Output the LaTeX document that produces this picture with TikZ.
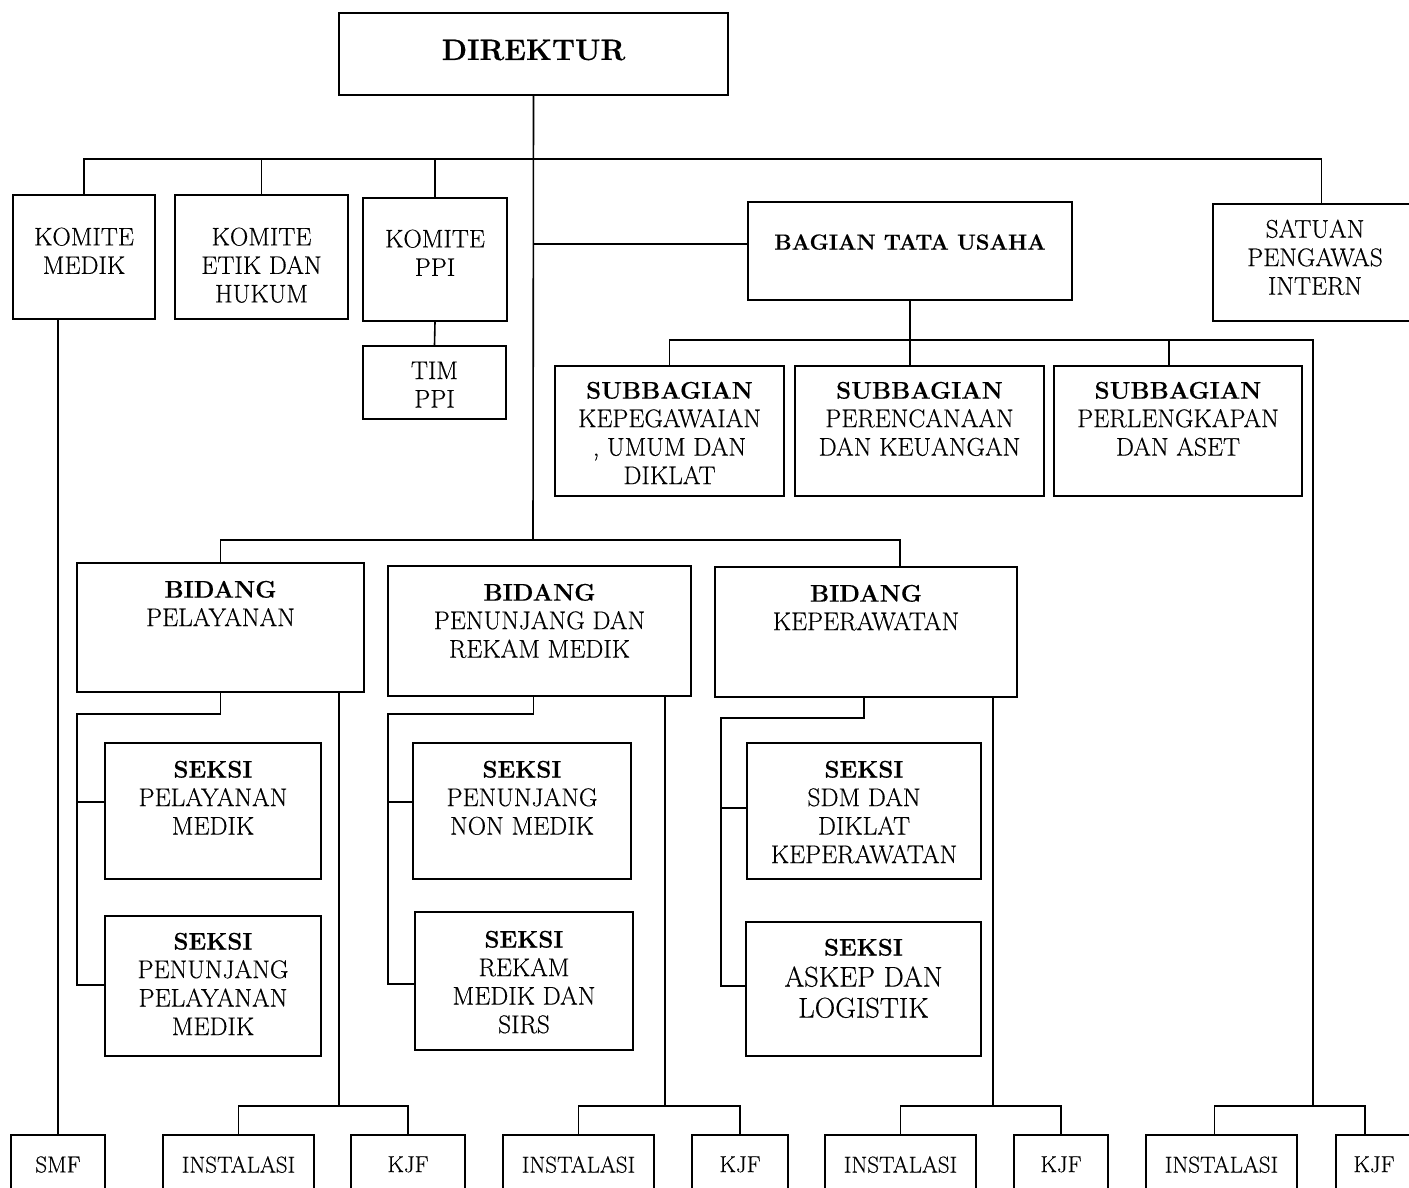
\documentclass[tikz,border=0pt]{standalone}
\usepackage{fontspec}
\setmainfont{Latin Modern Roman}[FakeBold=0.4]
\usetikzlibrary{positioning, fit}
\newcommand{\headword}[1]{{\fontsize{24}{28.5}\selectfont\bfseries #1}}
\tikzset{
box/.style={draw, line width=1.8pt, inner sep=0pt}, % frame of one unit
txt/.style={align=center, inner sep=0pt, font=\fontsize{25.5}{28.5}\selectfont}, % text set inside a frame
head/.style={txt, font=\fontsize{22}{28.5}\selectfont\bfseries},
link/.style={line width=1.6pt}, % lines of the chart
}

\begin{document}
\begin{tikzpicture}[x=1pt, y=-1pt]
    \path[fill=white, use as bounding box] (0,0) rectangle (1409,1187);

    % frames
    \node[box, fit={(339,13) (728,95)}] (dir) {};
    \node[box, fit={(13,195) (155,319)}] (km) {};
    \node[box, fit={(175,195) (348,319)}] (ke) {};
    \node[box, fit={(363,198) (507,321)}] (kp) {};
    \node[box, fit={(363,346) (506,419)}] (tp) {};
    \node[box, fit={(748,202) (1072,300)}] (bts) {};
    \node[box, fit={(1213,204) (1430,321)}] (spi) {};
    \node[box, fit={(555,366) (784,496)}] (sb1) {};
    \node[box, fit={(795,366) (1044,496)}] (sb2) {};
    \node[box, fit={(1054,366) (1302,496)}] (sb3) {};
    \node[box, fit={(77,563) (364,692)}] (bp) {};
    \node[box, fit={(388,566) (691,696)}] (bm) {};
    \node[box, fit={(715,567) (1017,697)}] (bk) {};
    \node[box, fit={(105,743) (321,879)}] (s1a) {};
    \node[box, fit={(105,916) (321,1056)}] (s1b) {};
    \node[box, fit={(413,743) (631,879)}] (s2a) {};
    \node[box, fit={(415,912) (633,1050)}] (s2b) {};
    \node[box, fit={(747,743) (981,879)}] (s3a) {};
    \node[box, fit={(746,922) (981,1056)}] (s3b) {};

    % texts
    \node[head, font=\fontsize{29.5}{34}\selectfont\bfseries] (dirT) at ([yshift=4pt]dir.center) {DIREKTUR};
    \node[txt, below=33.3pt of km.north] (kmT) {KOMITE\\MEDIK};
    \node[txt, below=33.3pt of ke.north] (keT) {KOMITE\\ETIK DAN\\HUKUM};
    \node[txt, below=32.3pt of kp.north] (kpT) {KOMITE\\PPI};
    \node[txt, below=16.3pt of tp.north] (tpT) {TIM\\PPI};
    \node[head, font=\fontsize{21.8}{26}\selectfont\bfseries, below=33pt of bts.north] (btsT) {BAGIAN TATA USAHA};
    \node[txt, below=16.3pt of spi.north, xshift=-6.5pt] (spiT) {SATUAN\\PENGAWAS\\INTERN};
    \node[txt, below=16.5pt of sb1.north] (sb1T) {\headword{SUBBAGIAN}\\KEPEGAWAIAN\\, UMUM DAN\\DIKLAT};
    \node[txt, below=16.5pt of sb2.north] (sb2T) {\headword{SUBBAGIAN}\\PERENCANAAN\\DAN KEUANGAN};
    \node[txt, below=16.5pt of sb3.north] (sb3T) {\headword{SUBBAGIAN}\\PERLENGKAPAN\\DAN ASET};
    \node[txt, below=18.5pt of bp.north] (bpT) {\headword{BIDANG}\\PELAYANAN};
    \node[txt, below=18.5pt of bm.north] (bmT) {\headword{BIDANG}\\PENUNJANG DAN\\REKAM MEDIK};
    \node[txt, below=18.5pt of bk.north] (bkT) {\headword{BIDANG}\\KEPERAWATAN};
    \node[txt, below=18.5pt of s1a.north] (s1aT) {\headword{SEKSI}\\PELAYANAN\\MEDIK};
    \node[txt, below=17.5pt of s1b.north] (s1bT) {\headword{SEKSI}\\PENUNJANG\\PELAYANAN\\MEDIK};
    \node[txt, below=18.5pt of s2a.north] (s2aT) {\headword{SEKSI}\\PENUNJANG\\NON MEDIK};
    \node[txt, below=19.5pt of s2b.north] (s2bT) {\headword{SEKSI}\\REKAM\\MEDIK DAN\\SIRS};
    \node[txt, below=18.5pt of s3a.north] (s3aT) {\headword{SEKSI}\\SDM DAN\\DIKLAT\\KEPERAWATAN};
    \node[txt, font=\fontsize{28.5}{31}\selectfont, below=17.5pt of s3b.north] (s3bT) {\headword{SEKSI}\\ASKEP DAN\\LOGISTIK};

    % bottom row
    \foreach \n/\a/\b/\t in {smf/11/105/SMF, in1/163/314/INSTALASI, kj1/351/465/KJF,
        in2/503/654/INSTALASI, kj2/692/788/KJF, in3/825/976/INSTALASI, kj3/1014/1108/KJF,
        in4/1146/1297/INSTALASI, kj4/1336/1412/KJF}
    {
        \node[box, fit={(\a,1135) (\b,1210)}] (\n) {};
        \node[txt, font=\fontsize{23}{27}\selectfont, below=22pt of \n.north] (\n-t) {\t};
    }

    % joints
    \coordinate (top) at (0,159);
    \coordinate (sbus) at (0,340);
    \coordinate (bj) at ([yshift=7pt]bts.west);
    \coordinate (jb) at (533,540);
    \coordinate (l1) at (77,985);
    \coordinate (m1) at (388,984);
    \coordinate (r1) at (721,986);
    \coordinate (i1) at (339,1106);
    \coordinate (i2) at (665,1106);
    \coordinate (i3) at (993,1106);
    \coordinate (r4) at (1313,1106);

    \draw[link] (dir.south) -- (jb);
    \draw[link] (km.north) |- (top -| spi.north) -- (spi.north);
    \draw[link] (ke.north) -- (ke.north |- top);
    \draw[link] (kp.north) -- (kp.north |- top);
    \draw[link] (kp.south) -- (tp.north);
    \draw[link] (dir.south |- bj) -- (bj);
    \draw[link] (bts.south) -- (bts.south |- sb2.north);
    \draw[link] (sb1.north) |- (sbus -| r4) -- (r4);
    \draw[link] ([xshift=-9pt]sb3.north) -- ([xshift=-9pt]sb3.north |- sbus);
    \draw[link] (bp.north) |- (jb) -| ([xshift=34pt]bk.north);
    \draw[link] (smf.north |- km.south) -- (smf.north);

    \draw[link] (bp.south) -- ++(0,21) -| (l1) -- (l1 -| s1b.west);
    \draw[link] ([yshift=9pt]s1a.west) -- ([yshift=9pt]s1a.west -| l1);
    \draw[link] (bp.south east -| i1) -- (i1);
    \draw[link] (in1.north) |- (i1) -| (kj1.north);

    \draw[link] ([xshift=-6pt]bm.south) -- ++(0,17) -| (m1) -- (m1 -| s2b.west);
    \draw[link] ([yshift=9pt]s2a.west) -- ([yshift=9pt]s2a.west -| m1);
    \draw[link] (bm.south east -| i2) -- (i2);
    \draw[link] (in2.north) |- (i2) -| (kj2.north);

    \draw[link] ([xshift=-2pt]bk.south) -- ++(0,20) -| (r1) -- (r1 -| s3b.west);
    \draw[link] ([yshift=3pt]s3a.west) -- ([yshift=3pt]s3a.west -| r1);
    \draw[link] (bk.south east -| i3) -- (i3);
    \draw[link] (in3.north) |- (i3) -| (kj3.north);

    \draw[link] ([xshift=-7pt]in4.north) |- (r4) -| ([xshift=-9pt]kj4.north);
\end{tikzpicture}
\end{document}
